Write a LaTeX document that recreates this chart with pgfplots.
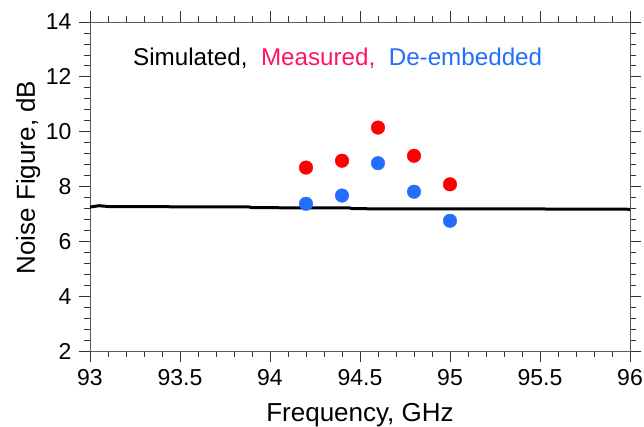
\documentclass[border=0pt]{standalone}
\usepackage{fontspec}
\setmainfont{Liberation Sans}
\usepackage{pgfplots}
\pgfplotsset{compat=1.18}
\usetikzlibrary{calc}
\definecolor{measred}{RGB}{255,0,0}
\definecolor{measpink}{RGB}{255,20,100}
\definecolor{deblue}{RGB}{35,110,250}
\definecolor{axgray}{RGB}{90,90,90}
\begin{document}
\begin{tikzpicture}
\begin{axis}[
  scale only axis,
  width=540pt, height=329pt,
  xmin=93, xmax=96, ymin=2, ymax=14,
  xtick={93,93.5,...,96}, ytick={2,4,...,14},
  minor x tick num=4, minor y tick num=4,
  xticklabels={93,93.5,94,94.5,95,95.5,96},
  tick align=outside,
  major tick length=11pt, minor tick length=6pt,
  axis line style={axgray, line width=0.9pt},
  every tick/.style={black!80, line width=0.8pt},
  tick label style={font=\fontsize{23}{26}\selectfont},
  /pgf/number format/assume math mode=true,
  xticklabel style={yshift=-4pt},
  yticklabel style={xshift=-4pt},
  xlabel={Frequency, GHz},
  ylabel={Noise Figure, dB},
  label style={font=\fontsize{26}{30}\selectfont},
  xlabel style={at={(axis description cs:0.5,0)}, anchor=base, yshift=-70pt, inner sep=0pt},
  ylabel style={at={(axis description cs:0,0.5)}, anchor=base, xshift=9pt, yshift=55pt, inner sep=0pt},
  clip=false,
]
\addplot[black, line width=3pt, no marks] coordinates {
 (93.0,7.25) (93.05,7.30) (93.1,7.27) (93.5,7.26) (93.88,7.26) (93.9,7.23)
 (94.2,7.22) (94.44,7.22) (94.46,7.19) (95.0,7.18) (95.5,7.18) (96,7.17)
};
\addplot[only marks, mark=*, mark size=6.8pt, measred, mark options={draw=measred, fill=measred}] coordinates {
 (94.2,8.69) (94.4,8.94) (94.6,10.15) (94.8,9.12) (95.0,8.08)
};
\addplot[only marks, mark=*, mark size=6.8pt, deblue, mark options={draw=deblue, fill=deblue}] coordinates {
 (94.2,7.37) (94.4,7.67) (94.6,8.85) (94.8,7.81) (95.0,6.75)
};
\node[anchor=base west, inner sep=0pt, font=\fontsize{24.2}{28}\selectfont] at (axis cs:93.239,12.43)
 {Simulated,\ \ \textcolor{measpink}{Measured,}\ \ \textcolor{deblue}{De-embedded}};
\end{axis}
\pgfresetboundingbox
\path ($(current axis.south west)+(-90pt,-75pt)$) rectangle ($(current axis.north east)+(14pt,22pt)$);
\end{tikzpicture}
\end{document}
